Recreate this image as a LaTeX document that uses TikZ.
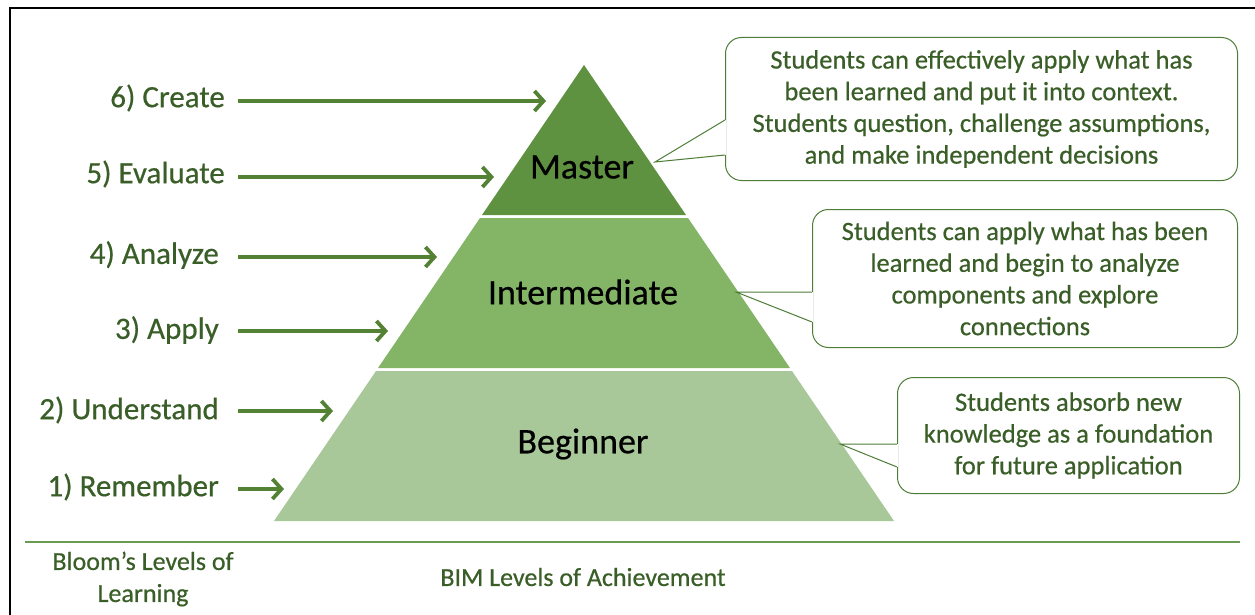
\documentclass[tikz,border=0pt]{standalone}
\usepackage{fontspec}
\setmainfont{Carlito}[FakeBold=0.5]
\usetikzlibrary{arrows.meta}
\definecolor{txtgreen}{HTML}{3A5E27}
\definecolor{arrgreen}{HTML}{548235}
\definecolor{masterc}{HTML}{5E9140}
\definecolor{interc}{HTML}{84B566}
\definecolor{beginc}{HTML}{A9C899}
\definecolor{boxline}{HTML}{4E7D38}
\definecolor{sepgreen}{HTML}{6B9A55}
\begin{document}
\begin{tikzpicture}[x=1pt,y=-1pt,
  lbl/.style={font=\fontsize{31}{36}\selectfont, text=txtgreen, anchor=east, inner sep=0pt},
  lvl/.style={font=\fontsize{36}{40}\selectfont, text=black, inner sep=0pt},
  desc/.style={font=\fontsize{26.5}{31.7}\selectfont, text=txtgreen, align=center, inner sep=0pt},
  foot/.style={font=\fontsize{26}{32}\selectfont, text=txtgreen, align=center, inner sep=0pt},
  arr/.style={draw=arrgreen, line width=3.8pt, -{Straight Barb[length=9pt,width=20pt]}},
  cbox/.style={draw=boxline, line width=1pt, rounded corners=16pt, fill=white, anchor=north west, inner sep=0pt},
  ptr/.style={draw=boxline, line width=1pt},
]
\useasboundingbox (0,0) rectangle (1255,615);
\fill[white] (0,0) rectangle (1255,615);

% outer frame
\draw[black, line width=2pt] (10,615) -- (10,8) -- (1255,8);

% pyramid
\fill[masterc] (584,65) -- (482,215) -- (686,215) -- cycle;
\fill[interc] (480,218) -- (688,218) -- (790,368) -- (378,368) -- cycle;
\fill[beginc] (376,371) -- (792,371) -- (894,521) -- (274,521) -- cycle;
\node[lvl] (master) at (582,167) {Master};
\node[lvl] (inter) at (583,292) {Intermediate};
\node[lvl] (begin) at (583,444) {Beginner};

% Bloom labels
\node[lbl] (L6) at (225,98) {6) Create};
\node[lbl] (L5) at (225,174) {5) Evaluate};
\node[lbl] (L4) at (219,255) {4) Analyze};
\node[lbl] (L3) at (219,330) {3) Apply};
\node[lbl] (L2) at (219,410) {2) Understand};
\node[lbl] (L1) at (219,487) {1) Remember};

\coordinate (a6s) at (238,101); \coordinate (a6e) at (546,101);
\coordinate (a5s) at (238,177); \coordinate (a5e) at (494,177);
\coordinate (a4s) at (238,257); \coordinate (a4e) at (437,257);
\coordinate (a3s) at (238,331); \coordinate (a3e) at (388,331);
\coordinate (a2s) at (238,411); \coordinate (a2e) at (333,411);
\coordinate (a1s) at (238,489); \coordinate (a1e) at (284,489);
\draw[arr] (a6s) -- (a6e);
\draw[arr] (a5s) -- (a5e);
\draw[arr] (a4s) -- (a4e);
\draw[arr] (a3s) -- (a3e);
\draw[arr] (a2s) -- (a2e);
\draw[arr] (a1s) -- (a1e);

% callout 1
\node[cbox, minimum width=512pt, minimum height=143pt] (B1) at (725,37) {};
\node[desc] (D1) at (B1.center) {Students can effectively apply what has\\been learned and put it into context.\\Students question, challenge assumptions,\\and make independent decisions};
\coordinate (t1) at (655,162); \coordinate (j1a) at (725,120); \coordinate (j1b) at (725,155);
\fill[white] ([xshift=-1.2pt]j1a) rectangle ([xshift=1.2pt]j1b);
\draw[ptr] (j1a) -- (t1) -- (j1b);

% callout 2
\node[cbox, minimum width=425pt, minimum height=138pt] (B2) at (812,209) {};
\node[desc] (D2) at (B2.center) {Students can apply what has been\\learned and begin to analyze\\components and explore\\connections};
\coordinate (t2) at (736,292); \coordinate (j2a) at (812,292); \coordinate (j2b) at (812,322);
\fill[white] ([xshift=-1.2pt]j2a) rectangle ([xshift=1.2pt]j2b);
\draw[ptr] (j2a) -- (t2) -- (j2b);

% callout 3
\node[cbox, minimum width=342pt, minimum height=116pt] (B3) at (897,377) {};
\node[desc] (D3) at (B3.center) {Students absorb new\\knowledge as a foundation\\for future application};
\coordinate (t3) at (840,444); \coordinate (j3a) at (897,444); \coordinate (j3b) at (897,467);
\fill[white] ([xshift=-1.2pt]j3a) rectangle ([xshift=1.2pt]j3b);
\draw[ptr] (j3a) -- (t3) -- (j3b);

% footer
\coordinate (sl) at (25,542); \coordinate (sr) at (1240,542);
\draw[sepgreen, line width=2pt] (sl) -- (sr);
\node[foot] (bloom) at (143,579) {Bloom’s Levels of\\Learning};
\node[foot] (bim) at (583,577) {BIM Levels of Achievement};
\end{tikzpicture}
\end{document}
